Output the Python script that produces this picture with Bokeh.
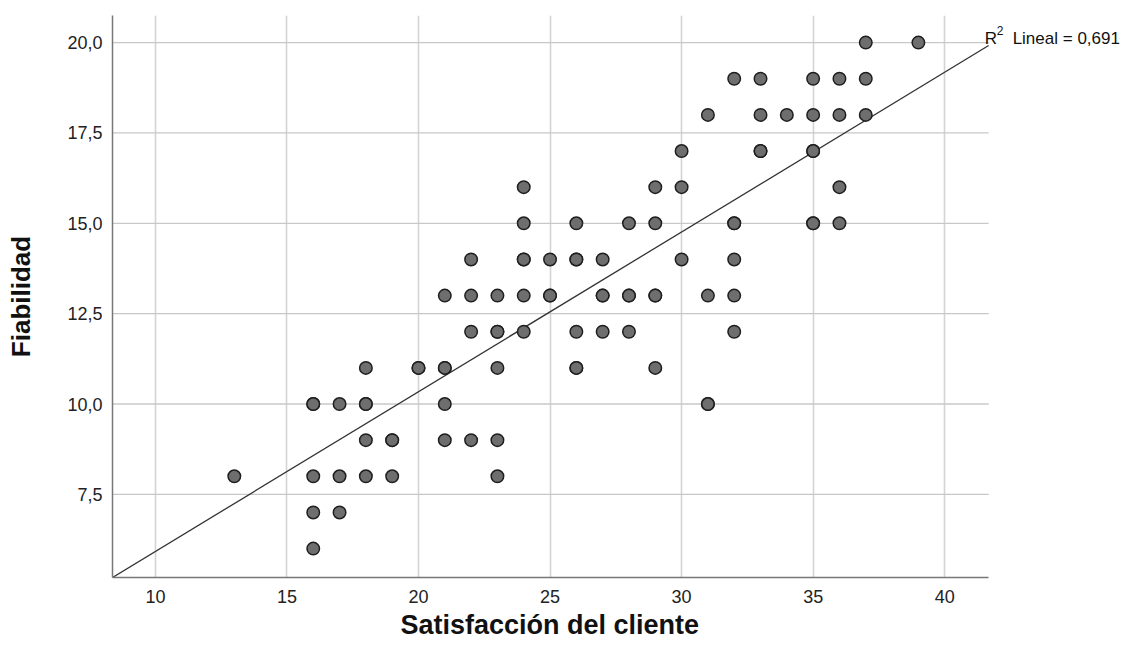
from bokeh.plotting import figure
from bokeh.models import Range1d, FixedTicker, Title
from bokeh.core.properties import value
from bokeh.embed import file_html
from bokeh.resources import INLINE
import numpy as np

# Data: Satisfacción del cliente values grouped by Fiabilidad level
levels = {
    20: [37, 39],
    19: [32, 33, 35, 36, 37],
    18: [31, 33, 34, 35, 36, 37],
    17: [30, 33, 35],
    16: [24, 29, 30, 36],
    15: [24, 26, 28, 29, 32, 35, 36],
    14: [22, 24, 25, 26, 27, 30, 32],
    13: [21, 22, 23, 24, 25, 27, 28, 29, 31, 32],
    12: [22, 23, 24, 26, 27, 28, 32],
    11: [18, 20, 21, 23, 26, 29],
    10: [16, 17, 18, 21, 31],
    9: [18, 19, 21, 22, 23],
    8: [13, 16, 17, 18, 19, 23],
    7: [16, 17],
    6: [16],
}
# cases that appear more than once (overlapping markers look darker)
repeated_x = [20, 26, 27, 28, 29, 33, 35, 35, 25, 31, 26, 32, 16, 19, 23, 18, 24, 21]
repeated_y = [11, 14, 13, 13, 13, 17, 17, 15, 13, 10, 11, 15, 10, 9, 12, 10, 14, 11]

satisfaccion = [x for yv, xs in levels.items() for x in xs] + repeated_x
fiabilidad = [yv for yv, xs in levels.items() for x in xs] + repeated_y

fit_slope = 0.442
fit_intercept = 1.50
r2_label = "Lineal = 0,691"

x_ticks = [10, 15, 20, 25, 30, 35, 40]
y_ticks = [7.5, 10.0, 12.5, 15.0, 17.5, 20.0]
y_tick_labels = ["7,5", "10,0", "12,5", "15,0", "17,5", "20,0"]
x_title = "Satisfacción del cliente"
y_title = "Fiabilidad"

x_min, x_max = 8.37, 41.67      # visible axis extent
x_frame_end = 46.72             # frame extended to the right to hold the R² note
y_min, y_max = 5.2, 20.75

FONT = "Liberation Sans"

p = figure(width=1121, height=645, output_backend="svg", toolbar_location=None,
           x_range=Range1d(x_min, x_frame_end), y_range=Range1d(y_min, y_max),
           min_border_left=112, min_border_right=0, min_border_top=15, min_border_bottom=68)
p.outline_line_color = None
p.background_fill_color = "white"
p.border_fill_color = "white"

# vertical grid
p.xgrid.ticker = FixedTicker(ticks=x_ticks)
p.xgrid.grid_line_color = "#d4d4d4"
p.xgrid.grid_line_width = 1.6
# horizontal grid lines limited to the visible x extent
p.ygrid.visible = False
p.segment(x0=[x_min] * len(y_ticks), x1=[x_max] * len(y_ticks), y0=y_ticks, y1=y_ticks,
          line_color="#c8c8c8", line_width=1.3)

for ax in (p.xaxis[0], p.yaxis[0]):
    ax.axis_line_color = "#777777"
    ax.axis_line_width = 1.5
    ax.major_tick_line_color = None
    ax.minor_tick_line_color = None
    ax.major_tick_out = 0
    ax.major_tick_in = 0
    ax.major_label_text_font = FONT
    ax.major_label_text_font_size = "18px"
    ax.major_label_text_color = "#222222"
    ax.axis_label_text_font = FONT
    ax.axis_label_text_font_style = "bold"
    ax.axis_label_text_font_size = "26px"
    ax.axis_label_text_color = "#111111"

p.xaxis.bounds = (x_min, x_max)
p.xaxis.ticker = FixedTicker(ticks=x_ticks)
p.yaxis.ticker = FixedTicker(ticks=y_ticks)
p.yaxis.major_label_overrides = {t: l for t, l in zip(y_ticks, y_tick_labels)}
p.yaxis.axis_label = y_title
p.xaxis.major_label_standoff = 12
p.yaxis.major_label_standoff = 10
p.yaxis.axis_label_standoff = 28

# x-axis title centred under the visible axis (frame extends further right)
p.add_layout(Title(text=x_title, align="left", offset=288, standoff=4,
                   text_font=FONT, text_font_style="bold", text_font_size="27px",
                   text_color="#111111"), "below")

# regression line
lx = np.array([x_min, x_max])
p.line(lx, fit_intercept + fit_slope * lx, line_color="#333333", line_width=1.3)

# points
p.scatter(satisfaccion, fiabilidad, size=12.5, fill_color="#6e6e6e",
          line_color="#1e1e1e", line_width=1.5)

# R² note at the end of the fit line
yl = fit_intercept + fit_slope * x_max
p.text(x=[x_max], y=[yl], text=["R"], x_offset=-4, y_offset=-7,
       text_font=value(FONT), text_font_size="17px", text_color="#111111",
       text_baseline="alphabetic", text_align="left")
p.text(x=[x_max], y=[yl], text=["2"], x_offset=8, y_offset=-15,
       text_font=value(FONT), text_font_size="12px", text_color="#111111",
       text_baseline="alphabetic", text_align="left")
p.text(x=[x_max], y=[yl], text=[r2_label], x_offset=24, y_offset=-7,
       text_font=value(FONT), text_font_size="17px", text_color="#111111",
       text_baseline="alphabetic", text_align="left")

open("out.html", "w").write(file_html(p, INLINE))
